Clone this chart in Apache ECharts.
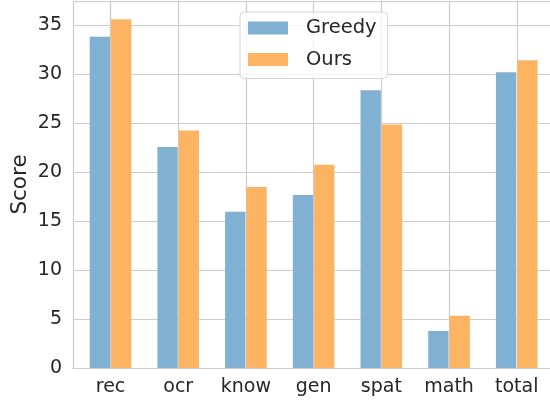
<!DOCTYPE html>
<html>
<head>
<meta charset="utf-8">
<script src="https://cdn.jsdelivr.net/npm/echarts@6/dist/echarts.min.js"></script>
<style>
html,body{margin:0;padding:0;background:#fff;}
#chart{width:550px;height:402px;}
</style>
</head>
<body>
<div id="chart"></div>
<script>
var cats=['rec','ocr','know','gen','spat','math','total'];
var greedy=[33.8,22.55,15.95,17.65,28.33,3.78,30.17];
var ours=[35.6,24.24,18.47,20.74,24.86,5.34,31.4];
var yTicks=[0,5,10,15,20,25,30,35];

var txt='#262626';
var gridCol='#cccccc';
var font='DejaVu Sans';

// bars sit on a value x axis so the grid lines land on the category centres
function toPoints(arr){
  var out=[];
  for(var i=0;i<arr.length;i++) out.push([i,arr[i]]);
  return out;
}

var myChart=echarts.init(document.getElementById('chart'),null,{renderer:'canvas'});
var option={
  animation:false,
  textStyle:{fontFamily:font},
  // plot runs a few px past the right edge of the picture, like the original
  grid:{left:73,right:-4,top:1,bottom:34,containLabel:false,outerBoundsMode:'none'},
  legend:{
    data:['Greedy','Ours'],
    orient:'vertical',
    left:240,top:12,
    icon:'rect',
    itemWidth:40,itemHeight:13,itemGap:11.5,
    padding:[6,11,9,8],
    borderColor:'#d6d6d6',borderWidth:1,borderRadius:4,
    backgroundColor:'rgba(255,255,255,0.8)',
    textStyle:{fontFamily:font,fontSize:19.5,color:txt,lineHeight:19,padding:[0,0,0,13]}
  },
  xAxis:{
    type:'value',
    min:-0.554,max:6.55,splitNumber:7,
    axisLine:{show:true,lineStyle:{color:gridCol,width:1.2}},
    axisTick:{show:false},
    axisLabel:{
      fontFamily:font,fontSize:19,color:txt,margin:10,
      formatter:function(v){
        var k=Math.round(v);
        return (Math.abs(v-k)<1e-6&&cats[k]!==undefined)?cats[k]:'';
      }
    },
    splitLine:{show:true,lineStyle:{color:gridCol,width:1.2}}
  },
  yAxis:{
    type:'value',
    min:0,max:37.45,interval:5,
    name:'Score',nameLocation:'middle',nameGap:42,nameMoveOverlap:false,
    nameTextStyle:{fontFamily:font,fontSize:21.5,color:txt},
    axisLine:{show:true,lineStyle:{color:gridCol,width:1.2}},
    axisTick:{show:false},
    axisLabel:{
      fontFamily:font,fontSize:19,color:txt,margin:11,
      formatter:function(v){return yTicks.indexOf(v)>=0?String(v):'';}
    },
    splitLine:{show:true,lineStyle:{color:gridCol,width:1.2}}
  },
  series:[
    {name:'Greedy',type:'bar',data:toPoints(greedy),barWidth:'30%',barGap:'5%',
     itemStyle:{color:'#80b1d3'}},
    {name:'Ours',type:'bar',data:toPoints(ours),barWidth:'30%',barGap:'5%',
     itemStyle:{color:'#fdb462'}}
  ]
};
myChart.setOption(option);
</script>
</body>
</html>
